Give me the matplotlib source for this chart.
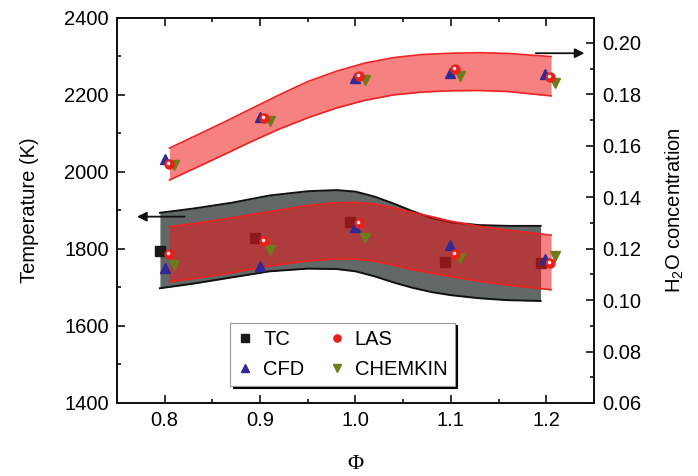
import matplotlib
matplotlib.use('Agg')
import matplotlib.pyplot as plt
from matplotlib.ticker import MultipleLocator
from matplotlib.transforms import offset_copy

plt.rcParams['font.family'] = ['Liberation Sans', 'DejaVu Sans']
plt.rcParams['mathtext.fontset'] = 'custom'
plt.rcParams['mathtext.rm'] = 'Liberation Sans'
plt.rcParams['mathtext.it'] = 'Liberation Sans:italic'

# temperature bands (left axis)
phi_gray = [0.795, 0.83, 0.87, 0.91, 0.95, 0.98, 1.00, 1.02, 1.04, 1.06, 1.08, 1.10, 1.13, 1.16, 1.194]
T_gray_hi = [1894, 1905, 1920, 1939, 1950, 1953, 1949, 1936, 1918, 1898, 1880, 1869, 1862, 1860, 1860]
T_gray_lo = [1698, 1710, 1726, 1742, 1749, 1748, 1742, 1729, 1713, 1699, 1688, 1680, 1672, 1667, 1665]

phi_red = [0.805, 0.83, 0.87, 0.91, 0.95, 0.98, 1.00, 1.02, 1.04, 1.06, 1.08, 1.10, 1.13, 1.16, 1.205]
T_red_hi = [1858, 1866, 1881, 1897, 1913, 1920, 1921, 1917, 1907, 1895, 1884, 1872, 1859, 1849, 1836]
T_red_lo = [1715, 1723, 1738, 1756, 1769, 1774, 1774, 1768, 1758, 1746, 1737, 1728, 1716, 1706, 1694]

# H2O band (right axis)
phi_h2o = [0.805, 0.83, 0.86, 0.89, 0.92, 0.95, 0.98, 1.01, 1.04, 1.07, 1.10, 1.13, 1.16, 1.205]
h2o_hi = [0.1591, 0.1635, 0.1688, 0.1743, 0.1798, 0.1850, 0.1890, 0.1922, 0.1943, 0.1955,
          0.1960, 0.1962, 0.1959, 0.1947]
h2o_lo = [0.1467, 0.1510, 0.1562, 0.1615, 0.1665, 0.1709, 0.1747, 0.1777, 0.1798, 0.1809,
          0.1814, 0.1815, 0.1811, 0.1794]

# measured / computed points
phi_tc = [0.795, 0.895, 0.994, 1.094, 1.194]
phi_las = [0.805, 0.904, 1.004, 1.104, 1.204]
phi_cfd = [0.800, 0.900, 1.000, 1.099, 1.199]
phi_chem = [0.810, 0.910, 1.010, 1.110, 1.209]

T_tc = [1795, 1829, 1871, 1767, 1764]
T_las = [1787, 1822, 1868, 1787, 1764]
T_cfd = [1751, 1757, 1856, 1810, 1774]
T_chem = [1758, 1797, 1829, 1777, 1783]

h2o_las = [0.1530, 0.1707, 0.1873, 0.1899, 0.1869]
h2o_cfd = [0.1549, 0.1711, 0.1865, 0.1882, 0.1878]
h2o_chem = [0.1526, 0.1697, 0.1856, 0.1872, 0.1843]

c_tc = '#1a1a1a'
c_las = '#e8201a'
c_cfd = '#2f2a96'
c_chem = '#6e7b1c'
red_fill = (0.93, 0.1, 0.1)
fs = 14.5

fig = plt.figure(figsize=(6.98, 4.76), dpi=100)
ax = fig.add_axes([0.1676, 0.1534, 0.6834, 0.8088])
ax2 = ax.twinx()

# gray band + TC under the red band
ax.fill_between(phi_gray, T_gray_lo, T_gray_hi, color='#626767', lw=0, zorder=1)
ax.plot(phi_gray, T_gray_hi, color='#111111', lw=1.4, zorder=2)
ax.plot(phi_gray, T_gray_lo, color='#111111', lw=1.4, zorder=2)
h_tc, = ax.plot(phi_tc, T_tc, 's', color=c_tc, ms=6.5, zorder=3, label='TC')

ax.fill_between(phi_red, T_red_lo, T_red_hi, color=red_fill, alpha=0.55, lw=0, zorder=4)
ax.plot(phi_red, T_red_hi, color='#ee2222', lw=1.2, zorder=5)
ax.plot(phi_red, T_red_lo, color='#ee2222', lw=1.2, zorder=5)

h_cfd, = ax.plot(phi_cfd, T_cfd, '^', color=c_cfd, ms=7.5, zorder=6, label='CFD')
h_chem, = ax.plot(phi_chem, T_chem, 'v', color=c_chem, ms=7.5, zorder=6, label='CHEMKIN')
h_las, = ax.plot(phi_las, T_las, 'o', color=c_las, ms=6.5, zorder=7, label='LAS')
hl = offset_copy(ax.transData, fig=fig, x=-0.7, y=0.7, units='points')
ax.plot(phi_las, T_las, 'o', color='white', alpha=0.85, ms=1.6, zorder=8, transform=hl)

# H2O on the right axis
ax2.fill_between(phi_h2o, h2o_lo, h2o_hi, color=red_fill, alpha=0.55, lw=0, zorder=1)
ax2.plot(phi_h2o, h2o_hi, color='#ee2222', lw=1.2, zorder=2)
ax2.plot(phi_h2o, h2o_lo, color='#ee2222', lw=1.2, zorder=2)
ax2.plot(phi_cfd, h2o_cfd, '^', color=c_cfd, ms=7.5, zorder=3)
ax2.plot(phi_chem, h2o_chem, 'v', color=c_chem, ms=7.5, zorder=3)
ax2.plot(phi_las, h2o_las, 'o', color=c_las, ms=6.5, zorder=4)
hl2 = offset_copy(ax2.transData, fig=fig, x=-0.7, y=0.7, units='points')
ax2.plot(phi_las, h2o_las, 'o', color='white', alpha=0.85, ms=1.6, zorder=5, transform=hl2)

# axis arrows
ax.annotate('', xy=(0.771, 1884), xytext=(0.821, 1884),
            arrowprops=dict(arrowstyle='-|>', color='#111111', lw=1.3,
                            mutation_scale=14, shrinkA=0, shrinkB=0))
ax2.annotate('', xy=(1.240, 0.196), xytext=(1.189, 0.196),
             arrowprops=dict(arrowstyle='-|>', color='#111111', lw=1.3,
                             mutation_scale=14, shrinkA=0, shrinkB=0))

ax.set_xlim(0.75, 1.25)
ax.set_ylim(1400, 2400)
ax2.set_ylim(0.06, 0.2097)

ax.xaxis.set_minor_locator(MultipleLocator(0.05))
ax.yaxis.set_major_locator(MultipleLocator(200))
ax.yaxis.set_minor_locator(MultipleLocator(100))
ax2.yaxis.set_major_locator(MultipleLocator(0.02))
ax2.yaxis.set_minor_locator(MultipleLocator(0.01))
ax.set_xticks([0.8, 0.9, 1.0, 1.1, 1.2])
ax.set_xticklabels(['0.8', '0.9', '1.0', '1.1', '1.2'])
ax2.set_yticks([0.06, 0.08, 0.10, 0.12, 0.14, 0.16, 0.18, 0.20])
ax2.set_yticklabels(['0.06', '0.08', '0.10', '0.12', '0.14', '0.16', '0.18', '0.20'])

ax.tick_params(which='both', direction='in', top=True, right=False, labelsize=fs, width=1.2, color='#111111')
ax.tick_params(which='major', length=6, pad=6)
ax.tick_params(which='minor', length=3)
ax2.tick_params(which='both', direction='in', labelsize=fs, width=1.2, color='#111111')
ax2.tick_params(which='major', length=6, pad=6)
ax2.tick_params(which='minor', length=3)
for a in (ax, ax2):
    for s in a.spines.values():
        s.set_linewidth(1.3)
        s.set_color('#111111')

ax.set_xlabel('Φ', family='Liberation Serif', fontsize=16, labelpad=18)
ax.set_ylabel('Temperature (K)', fontsize=fs, labelpad=18)
ax2.set_ylabel('H$_2$O concentration', fontsize=fs, labelpad=16)

leg = ax2.legend(handles=[h_tc, h_cfd, h_las, h_chem],
                 labels=['TC', 'CFD', 'LAS', 'CHEMKIN'],
                 ncol=2, loc='upper left', bbox_to_anchor=(0.237, 0.209),
                 borderaxespad=0, fancybox=False, shadow={'color': 'black', 'alpha': 1},
                 edgecolor='#999999', framealpha=1, fontsize=fs,
                 handlelength=0.8, handletextpad=0.5, columnspacing=1.2,
                 borderpad=0.35, labelspacing=0.55, markerscale=0.8)
leg.get_frame().set_linewidth(0.8)

fig.savefig('out.png', dpi=100)
